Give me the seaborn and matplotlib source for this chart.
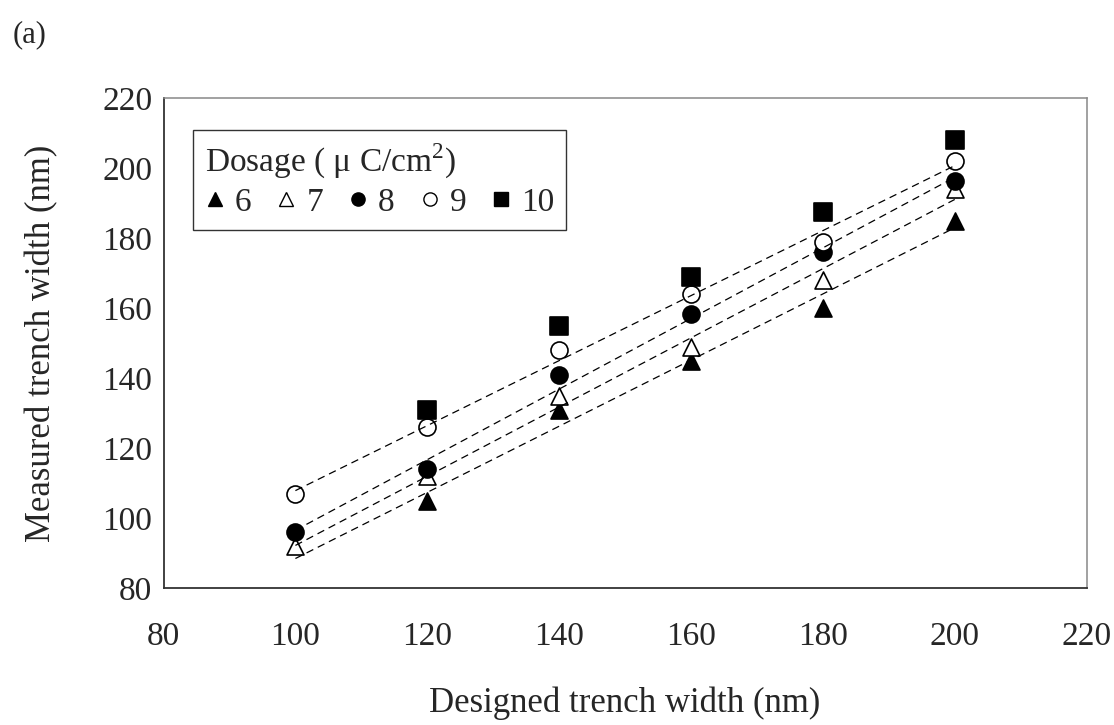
import numpy as np
import pandas as pd
import matplotlib
matplotlib.use("Agg")
import matplotlib.pyplot as plt
from matplotlib.lines import Line2D
import seaborn as sns

# ---- data ----
designed = [100, 120, 140, 160, 180, 200]
dose_labels = ["6", "7", "8", "9", "10"]
d6 = [np.nan, 105, 131, 145, 160, 185]
d7 = [92, 112, 135, 149, 168, 194]
d8 = [96, 114, 141, 158.5, 176, 196.5]
d9 = [107, 126, 148, 164, 179, 202]
d10 = [np.nan, 131, 155, 169, 187.5, 208]
series = [d6, d7, d8, d9, d10]
fitted = ["6", "7", "8", "9"]  # dashed regression lines

xticks = [80, 100, 120, 140, 160, 180, 200, 220]
yticks = [80, 100, 120, 140, 160, 180, 200, 220]

# ---- style ----
sns.set_style("white")
plt.rcParams["font.family"] = ["Liberation Serif", "DejaVu Serif"]
plt.rcParams["mathtext.fontset"] = "custom"
plt.rcParams["mathtext.rm"] = "Liberation Serif"

markers = {"6": "^", "7": "^", "8": "o", "9": "o", "10": "s"}
faces = {"6": "black", "7": "white", "8": "black", "9": "white", "10": "black"}

rows = []
for lab, vals in zip(dose_labels, series):
    for x, y in zip(designed, vals):
        if not np.isnan(y):
            rows.append({"designed": x, "measured": y, "dose": lab})
df = pd.DataFrame(rows)

fig = plt.figure(figsize=(11.14, 7.25), dpi=100)
ax = fig.add_axes([0.1468, 0.1886, 0.8286, 0.6758])

for i, lab in enumerate(dose_labels):
    sub = df[df["dose"] == lab]
    sns.scatterplot(data=sub, x="designed", y="measured", ax=ax,
                    marker=markers[lab], s=150, color=faces[lab],
                    edgecolor="black", linewidth=1.2, zorder=3 + i,
                    legend=False)

# regression lines (dashed) from 100 to 200
xs = np.array([100, 200])
for lab in fitted:
    sub = df[df["dose"] == lab]
    k, b = np.polyfit(sub["designed"], sub["measured"], 1)
    ax.plot(xs, k * xs + b, color="black", lw=0.9, ls=(0, (6, 4)), zorder=10)

ax.set_xlim(80, 220)
ax.set_ylim(80, 220)
ax.set_xticks(xticks)
ax.set_yticks(yticks)
ax.tick_params(axis="both", direction="in", length=11, width=1,
               labelsize=24, color="#333333")
ax.tick_params(axis="x", pad=24)
ax.tick_params(axis="y", pad=8)
for side in ["left", "bottom"]:
    ax.spines[side].set_color("#333333")
    ax.spines[side].set_linewidth(1.3)
for side in ["top", "right"]:
    ax.spines[side].set_color("#888888")
    ax.spines[side].set_linewidth(1.1)
    ax.spines[side].set_visible(True)

ax.set_xlabel("Designed trench width (nm)", fontsize=25, labelpad=25)
ax.set_ylabel("Measured trench width (nm)", fontsize=25, labelpad=32)

handles = [Line2D([], [], marker=markers[l], ls="none", markersize=9.5,
                  markerfacecolor=faces[l], markeredgecolor="black",
                  markeredgewidth=1.0) for l in dose_labels]
leg = ax.legend(handles, dose_labels, title="Dosage ( \u03bc C/cm$^2$)",
                ncol=5, loc="upper left", bbox_to_anchor=(0.032, 0.935),
                borderaxespad=0, fontsize=24, title_fontsize=24,
                handlelength=0.6, handletextpad=0.3, columnspacing=0.75,
                frameon=True, fancybox=False, edgecolor="black",
                borderpad=0.35, labelspacing=0.2)
leg.get_frame().set_linewidth(1.0)
leg._legend_box.align = "left"

fig.text(0.011, 0.952, "(a)", fontsize=22, ha="left", va="center")

fig.savefig("out.png", dpi=100)
